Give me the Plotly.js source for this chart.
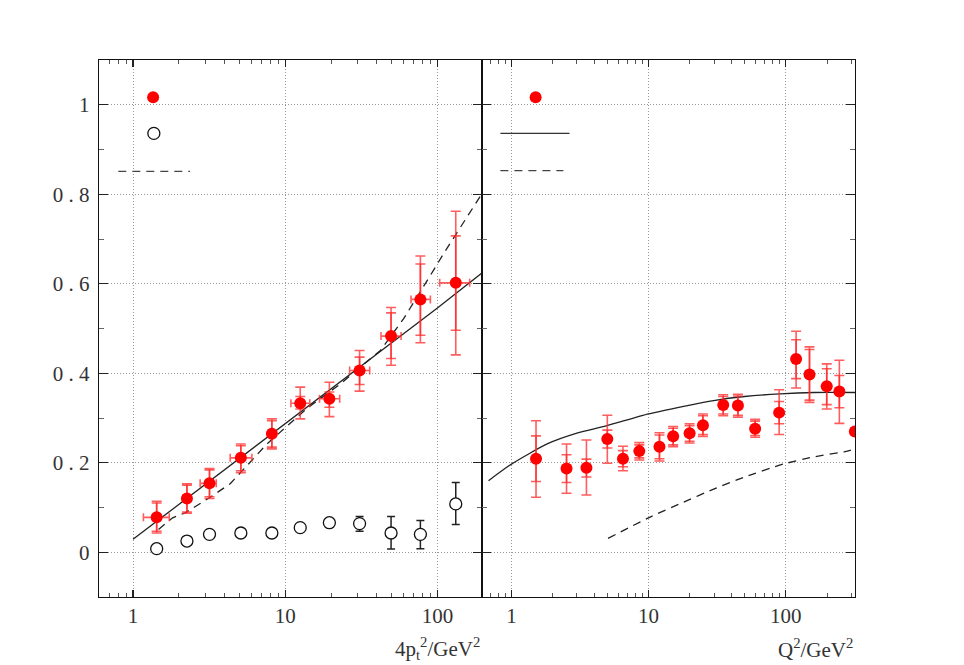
<!DOCTYPE html>
<html>
<head>
<meta charset="utf-8">
<script src="https://cdn.plot.ly/plotly-3.0.1.min.js"></script>
<style>html,body{margin:0;padding:0;background:#fff;}#chart{width:964px;height:665px;}</style>
</head>
<body>
<div id="chart"></div>
<script>
// ---- Left panel: filled red points (vs 4pt^2) ----
const leftX    = [1.43, 2.26, 3.18, 5.11, 8.17, 12.55, 19.5, 30.8, 49.6, 77.3, 132];
const leftY    = [0.078, 0.120, 0.154, 0.211, 0.265, 0.333, 0.343, 0.406, 0.483, 0.565, 0.602];
const leftTotHi = [0.114, 0.153, 0.187, 0.242, 0.298, 0.369, 0.380, 0.451, 0.547, 0.662, 0.762];
const leftTotLo = [0.043, 0.087, 0.120, 0.178, 0.231, 0.298, 0.303, 0.360, 0.418, 0.468, 0.441];
const leftStatHi = [0.110, 0.150, 0.184, 0.238, 0.294, 0.348, 0.358, 0.436, 0.535, 0.644, 0.707];
const leftStatLo = [0.047, 0.090, 0.124, 0.182, 0.235, 0.320, 0.324, 0.375, 0.433, 0.485, 0.496];
const leftXLo  = [1.17, 2.20, 2.76, 4.35, 8.0, 10.9, 16.8, 26.5, 42.6, 67.1, 103.5];
const leftXHi  = [1.73, 2.32, 3.52, 6.04, 8.3, 14.5, 22.8, 35.9, 57.7, 89.9, 163];

// ---- Left panel: open circles (no visible error bars) ----
const openX  = [1.43, 2.26, 3.18, 5.11, 8.17, 12.55, 19.5];
const openY  = [0.008, 0.025, 0.040, 0.043, 0.043, 0.055, 0.066];
// ---- Left panel: open circles with error bars ----
const openErrX  = [30.8, 49.6, 77.3, 132];
const openErrY  = [0.064, 0.043, 0.040, 0.108];
const openErrHi = [0.080, 0.080, 0.071, 0.156];
const openErrLo = [0.047, 0.007, 0.008, 0.062];

// ---- Left panel curves ----
const leftSolidX = [1, 10, 100, 196];
const leftSolidY = [0.029, 0.287, 0.546, 0.624];
const leftDashX = [1.47, 1.82, 2.2, 3.18, 4.35, 5.45, 7.58, 14.2, 23, 42.2, 60, 94.6, 112, 196];
const leftDashY = [0.051, 0.077, 0.088, 0.122, 0.153, 0.189, 0.242, 0.324, 0.376, 0.451, 0.522, 0.631, 0.672, 0.801];

// ---- Right panel: filled red points (vs Q^2) ----
const rightX = [1.51, 2.52, 3.52, 5.0, 6.5, 8.55, 12.0, 15.1, 19.9, 24.9, 35.0, 44.8, 59.8, 89.5, 119, 149, 199, 246, 319];
const rightY = [0.209, 0.187, 0.189, 0.253, 0.209, 0.226, 0.236, 0.259, 0.266, 0.284, 0.329, 0.328, 0.276, 0.312, 0.432, 0.397, 0.371, 0.359, 0.270];
const rightTotHi = [0.294, 0.242, 0.251, 0.306, 0.237, 0.245, 0.267, 0.281, 0.287, 0.309, 0.352, 0.353, 0.297, 0.363, 0.494, 0.459, 0.421, 0.429, 0.270];
const rightTotLo = [0.123, 0.132, 0.128, 0.199, 0.182, 0.206, 0.204, 0.236, 0.244, 0.259, 0.305, 0.302, 0.257, 0.263, 0.367, 0.335, 0.320, 0.288, 0.270];
const rightStatHi = [0.260, 0.218, 0.208, 0.273, 0.227, 0.240, 0.262, 0.277, 0.283, 0.305, 0.348, 0.349, 0.293, 0.337, 0.475, 0.453, 0.410, 0.395, 0.270];
const rightStatLo = [0.158, 0.156, 0.168, 0.233, 0.191, 0.211, 0.209, 0.240, 0.248, 0.263, 0.309, 0.306, 0.261, 0.287, 0.388, 0.340, 0.330, 0.323, 0.270];

// ---- Right panel curves ----
const rightSolidX = [0.68, 1.0, 1.82, 3.0, 4.98, 10, 18, 29.8, 50, 91, 160, 320];
const rightSolidY = [0.160, 0.197, 0.242, 0.266, 0.283, 0.309, 0.326, 0.339, 0.348, 0.354, 0.357, 0.357];
const rightDashX = [5.06, 10, 18, 29.8, 50, 96, 160, 271, 320];
const rightDashY = [0.031, 0.077, 0.112, 0.141, 0.168, 0.197, 0.213, 0.225, 0.231];

// ---- Legend marks (no legend text in the original) ----
const legLeftPtX = [1.355], legLeftPtY = [1.017];
const legLeftOpenX = [1.37], legLeftOpenY = [0.936];
const legLeftDashX = [0.80, 2.37], legLeftDashY = [0.851, 0.851];
const legRightPtX = [1.50], legRightPtY = [1.017];
const legRightSolidX = [0.83, 2.65], legRightSolidY = [0.936, 0.936];
const legRightDashX = [0.83, 2.39], legRightDashY = [0.853, 0.853];

// ---- Tick labels ----
const yTickVals = [0, 0.2, 0.4, 0.6, 0.8, 1];
const yTickText = ['0', '0 . 2', '0 . 4', '0 . 6', '0 . 8', '1'];
const xTickVals = [1, 10, 100];
const xTickText = ['1', '10', '100'];

const RED = '#ff0000';
const ERR = 'rgba(255,40,40,0.75)';
const LINE = '#222222';

function sub(a, b) { return a.map((v, i) => Math.max(0, v - b[i])); }
function subR(a, b) { return a.map((v, i) => Math.max(0, b[i] - v)); }

const traces = [];

// left curves
traces.push({x: leftSolidX, y: leftSolidY, xaxis: 'x', yaxis: 'y', mode: 'lines',
  line: {color: LINE, width: 1.3}});
traces.push({x: leftDashX, y: leftDashY, xaxis: 'x', yaxis: 'y', mode: 'lines',
  line: {color: LINE, width: 1.3, dash: '8px,6px'}});

// left open circles
traces.push({x: openErrX, y: openErrY, xaxis: 'x', yaxis: 'y', mode: 'markers',
  marker: {size: 1, color: 'rgba(0,0,0,0)'},
  error_y: {type: 'data', symmetric: false, array: sub(openErrHi, openErrY), arrayminus: subR(openErrLo, openErrY),
    color: '#222', thickness: 1.5, width: 4}});
traces.push({x: openX.concat(openErrX), y: openY.concat(openErrY), xaxis: 'x', yaxis: 'y', mode: 'markers',
  marker: {symbol: 'circle', size: 12, color: '#fff', line: {width: 1.3, color: '#111'}}});

// left red: total errors
traces.push({x: leftX, y: leftY, xaxis: 'x', yaxis: 'y', mode: 'markers',
  marker: {size: 1, color: 'rgba(0,0,0,0)'},
  error_y: {type: 'data', symmetric: false, array: sub(leftTotHi, leftY), arrayminus: subR(leftTotLo, leftY),
    color: ERR, thickness: 1.6, width: 5},
  error_x: {type: 'data', symmetric: false, array: sub(leftXHi, leftX), arrayminus: subR(leftXLo, leftX),
    color: ERR, thickness: 1.6, width: 4}});
// left red: stat errors + markers
traces.push({x: leftX, y: leftY, xaxis: 'x', yaxis: 'y', mode: 'markers',
  marker: {size: 12, color: RED},
  error_y: {type: 'data', symmetric: false, array: sub(leftStatHi, leftY), arrayminus: subR(leftStatLo, leftY),
    color: ERR, thickness: 1.6, width: 5}});

// left legend marks
traces.push({x: legLeftPtX, y: legLeftPtY, xaxis: 'x', yaxis: 'y', mode: 'markers', marker: {size: 12, color: RED}});
traces.push({x: legLeftOpenX, y: legLeftOpenY, xaxis: 'x', yaxis: 'y', mode: 'markers',
  marker: {symbol: 'circle', size: 12, color: '#fff', line: {width: 1.3, color: '#111'}}});
traces.push({x: legLeftDashX, y: legLeftDashY, xaxis: 'x', yaxis: 'y', mode: 'lines',
  line: {color: '#444', width: 1.3, dash: '8px,6px'}});

// right curves
traces.push({x: rightSolidX, y: rightSolidY, xaxis: 'x2', yaxis: 'y2', mode: 'lines',
  line: {color: LINE, width: 1.3, shape: 'spline', smoothing: 0.6}});
traces.push({x: rightDashX, y: rightDashY, xaxis: 'x2', yaxis: 'y2', mode: 'lines',
  line: {color: LINE, width: 1.3, dash: '8px,6px', shape: 'spline', smoothing: 0.6}});

// right red: total
traces.push({x: rightX, y: rightY, xaxis: 'x2', yaxis: 'y2', mode: 'markers', cliponaxis: true,
  marker: {size: 1, color: 'rgba(0,0,0,0)'},
  error_y: {type: 'data', symmetric: false, array: sub(rightTotHi, rightY), arrayminus: subR(rightTotLo, rightY),
    color: ERR, thickness: 1.6, width: 5}});
// right red: stat + markers
traces.push({x: rightX, y: rightY, xaxis: 'x2', yaxis: 'y2', mode: 'markers', cliponaxis: true,
  marker: {size: 12, color: RED},
  error_y: {type: 'data', symmetric: false, array: sub(rightStatHi, rightY), arrayminus: subR(rightStatLo, rightY),
    color: ERR, thickness: 1.6, width: 5}});

// right legend marks
traces.push({x: legRightPtX, y: legRightPtY, xaxis: 'x2', yaxis: 'y2', mode: 'markers', marker: {size: 12, color: RED}});
traces.push({x: legRightSolidX, y: legRightSolidY, xaxis: 'x2', yaxis: 'y2', mode: 'lines',
  line: {color: '#333', width: 1.3}});
traces.push({x: legRightDashX, y: legRightDashY, xaxis: 'x2', yaxis: 'y2', mode: 'lines',
  line: {color: '#444', width: 1.3, dash: '8px,6px'}});

traces.forEach(t => { t.showlegend = false; t.hoverinfo = 'skip'; });

const FONT = {family: 'Liberation Serif, DejaVu Serif, serif', size: 21, color: '#333'};

const xCommon = {
  type: 'log', showline: true, linecolor: '#111', linewidth: 1.2, mirror: 'allticks',
  ticks: 'inside', ticklen: 7, tickwidth: 1.3, tickcolor: '#222',
  tickvals: xTickVals, ticktext: xTickText, tickfont: FONT,
  showgrid: true, gridcolor: '#999', gridwidth: 1, griddash: '1px,2px',
  minor: {ticks: 'inside', ticklen: 4, tickcolor: '#555', tickwidth: 1,
    tickvals: [0.6,0.7,0.8,0.9,2,3,4,5,6,7,8,9,20,30,40,50,60,70,80,90,200,300], showgrid: false},
  zeroline: false, fixedrange: true
};
const yCommon = {
  range: [-0.1, 1.1], showline: true, linecolor: '#111', linewidth: 1.2, mirror: 'allticks',
  ticks: 'inside', ticklen: 9, tickwidth: 1.3, tickcolor: '#222',
  tickvals: yTickVals, ticktext: yTickText, tickfont: FONT,
  showgrid: true, gridcolor: '#999', gridwidth: 1, griddash: '1px,2px',
  minor: {ticks: 'inside', ticklen: 5, tickcolor: '#666', tickwidth: 1,
    tickvals: [-0.1, 0.1, 0.3, 0.5, 0.7, 0.9], showgrid: false},
  zeroline: false, fixedrange: true
};

const SPLIT = 383 / 756;

const layout = {
  width: 964, height: 665,
  margin: {l: 99, r: 109, t: 60, b: 68},
  paper_bgcolor: '#fff', plot_bgcolor: '#fff',
  showlegend: false,
  xaxis: Object.assign({}, xCommon, {domain: [0, SPLIT], range: [-0.2237, 2.293], anchor: 'y'}),
  xaxis2: Object.assign({}, xCommon, {domain: [SPLIT, 1], range: [-0.215, 2.505], anchor: 'y2'}),
  yaxis: Object.assign({}, yCommon, {anchor: 'x', ticklabelstandoff: 4}),
  yaxis2: Object.assign({}, yCommon, {anchor: 'x2', showticklabels: false}),
  annotations: [
    {text: '4p<sub>t</sub><sup>2</sup>/GeV<sup>2</sup>', xref: 'paper', yref: 'paper',
     x: SPLIT, y: -0.095, xanchor: 'right', yanchor: 'middle', showarrow: false, font: FONT},
    {text: 'Q<sup>2</sup>/GeV<sup>2</sup>', xref: 'paper', yref: 'paper',
     x: 1.0, y: -0.095, xanchor: 'right', yanchor: 'middle', showarrow: false, font: FONT}
  ]
};

Plotly.newPlot('chart', traces, layout, {staticPlot: true, displayModeBar: false});
</script>
</body>
</html>
